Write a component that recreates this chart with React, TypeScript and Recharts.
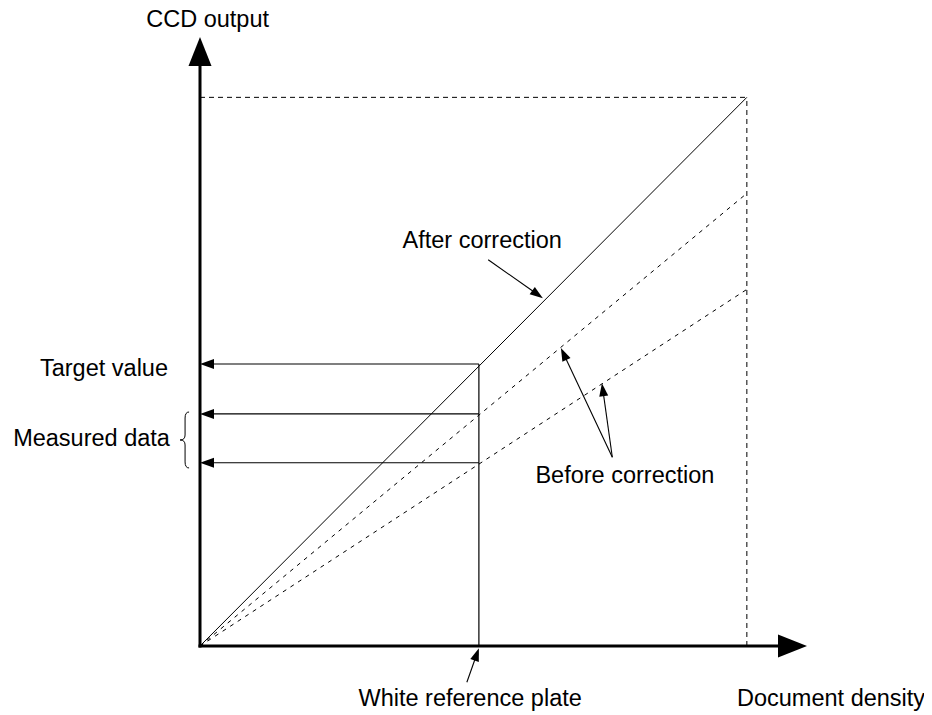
import React from "react"
import { ComposedChart, Line, XAxis, YAxis, ReferenceLine, ReferenceDot } from "recharts"

// document density (x) vs CCD output (y), both in % of full scale
const densityPoints = [0, 100]
const afterCorrection = [0, 100]
const beforeCorrectionHigh = [0, 82.5]
const beforeCorrectionLow = [0, 65]

const whiteReference = 51
const targetValue = 51.4
const measuredData = [42.3, 33.4]

const fullScale = 100
const axisMax = 111

const data = densityPoints.map((x, i) => ({
  x,
  after: afterCorrection[i],
  high: beforeCorrectionHigh[i],
  low: beforeCorrectionLow[i],
}))

const FONT = '"Liberation Sans", Arial, Helvetica, sans-serif'
const FONT_SIZE = 23.5

// label anchors, in chart units
const labels = [
  { text: "CCD output", x: 1.4, y: 112.8, anchor: "middle" },
  { text: "Target value", x: -5.85, y: 49.2, anchor: "end" },
  { text: "Measured data", x: -5.5, y: 36.5, anchor: "end" },
  { text: "After correction", x: 51.6, y: 72.5, anchor: "middle" },
  { text: "Before correction", x: 77.7, y: 29.7, anchor: "middle" },
  { text: "White reference plate", x: 49.4, y: -10.9, anchor: "middle" },
  { text: "Document density", x: 98.2, y: -10.9, anchor: "start" },
]

const pointers = [
  { from: { x: 52.7, y: 70.4 }, to: { x: 62.7, y: 63.4 } },
  { from: { x: 75.4, y: 34.4 }, to: { x: 66.0, y: 54.3 } },
  { from: { x: 75.4, y: 34.4 }, to: { x: 73.5, y: 47.9 } },
  { from: { x: 48.8, y: -6.6 }, to: { x: whiteReference, y: -0.4 } },
]

function arrow(len: number, half: number, width: number, cap = "butt") {
  return (p: any) => {
    const { x1, y1, x2, y2 } = p
    const d = Math.hypot(x2 - x1, y2 - y1) || 1
    const ux = (x2 - x1) / d
    const uy = (y2 - y1) / d
    const bx = x2 - ux * len
    const by = y2 - uy * len
    const px = -uy * half
    const py = ux * half
    return (
      <g>
        <line x1={x1} y1={y1} x2={bx + ux} y2={by + uy} stroke="#000" strokeWidth={width} strokeLinecap={cap} />
        <polygon points={`${x2},${y2} ${bx + px},${by + py} ${bx - px},${by - py}`} fill="#000" />
      </g>
    )
  }
}

const brace = (p: any) => {
  const { x1, y1, y2 } = p
  const mid = (y1 + y2) / 2
  const x = x1
  const path =
    `M${x},${y1} Q${x - 4},${y1} ${x - 4},${y1 + 6} L${x - 4},${mid - 5} ` +
    `Q${x - 4},${mid} ${x - 9},${mid} Q${x - 4},${mid} ${x - 4},${mid + 5} ` +
    `L${x - 4},${y2 - 6} Q${x - 4},${y2} ${x},${y2}`
  return <path d={path} fill="none" stroke="#000" strokeWidth={1} />
}

const textShape = (text: string, anchor: string) => (p: any) => (
  <text x={p.cx} y={p.cy} textAnchor={anchor} fontFamily={FONT} fontSize={FONT_SIZE} fill="#000">
    {text}
  </text>
)

export default function App() {
  return (
    <div style={{ width: 932, height: 715, margin: "-8px 0 0 -8px", background: "#fff" }}>
      <ComposedChart
        width={932}
        height={715}
        data={data}
        margin={{ top: 37, right: 125, bottom: 69, left: 200 }}
      >
        <XAxis type="number" dataKey="x" domain={[0, axisMax]} hide allowDataOverflow />
        <YAxis type="number" domain={[0, axisMax]} hide allowDataOverflow />

        {/* full scale box */}
        <ReferenceLine
          segment={[{ x: 0, y: fullScale }, { x: fullScale, y: fullScale }]}
          stroke="#000"
          strokeWidth={1}
          strokeDasharray="5 4"
          ifOverflow="visible"
        />
        <ReferenceLine
          segment={[{ x: fullScale, y: 0 }, { x: fullScale, y: fullScale }]}
          stroke="#000"
          strokeWidth={1}
          strokeDasharray="5 4"
          ifOverflow="visible"
        />

        <Line type="linear" dataKey="after" stroke="#000" strokeWidth={1} dot={false} isAnimationActive={false} />
        <Line type="linear" dataKey="high" stroke="#000" strokeWidth={1} strokeDasharray="4 5" dot={false} isAnimationActive={false} />
        <Line type="linear" dataKey="low" stroke="#000" strokeWidth={1} strokeDasharray="4 5" dot={false} isAnimationActive={false} />

        {/* white reference plate */}
        <ReferenceLine
          segment={[{ x: whiteReference, y: 0 }, { x: whiteReference, y: targetValue }]}
          stroke="#000"
          strokeWidth={1.2}
          ifOverflow="visible"
        />

        {[targetValue, ...measuredData].map((v, i) => (
          <ReferenceLine
            key={`h-${i}`}
            segment={[{ x: whiteReference, y: v }, { x: 0, y: v }]}
            shape={arrow(14, 5, 1.2)}
            ifOverflow="visible"
          />
        ))}

        {pointers.map((p, i) => (
          <ReferenceLine key={`p-${i}`} segment={[p.from, p.to]} shape={arrow(13, 4.5, 1.1)} ifOverflow="visible" />
        ))}

        <ReferenceLine
          segment={[{ x: -2, y: 42.65 }, { x: -2, y: 32.45 }]}
          shape={brace}
          ifOverflow="visible"
        />

        {/* axes */}
        <ReferenceLine
          segment={[{ x: 0, y: 0 }, { x: axisMax, y: 0 }]}
          shape={arrow(29, 11.5, 3, "square")}
          ifOverflow="visible"
        />
        <ReferenceLine
          segment={[{ x: 0, y: 0 }, { x: 0, y: axisMax }]}
          shape={arrow(29, 11.5, 3, "square")}
          ifOverflow="visible"
        />

        {labels.map((l) => (
          <ReferenceDot
            key={l.text}
            x={l.x}
            y={l.y}
            r={0}
            ifOverflow="visible"
            shape={textShape(l.text, l.anchor)}
          />
        ))}
      </ComposedChart>
    </div>
  )
}
